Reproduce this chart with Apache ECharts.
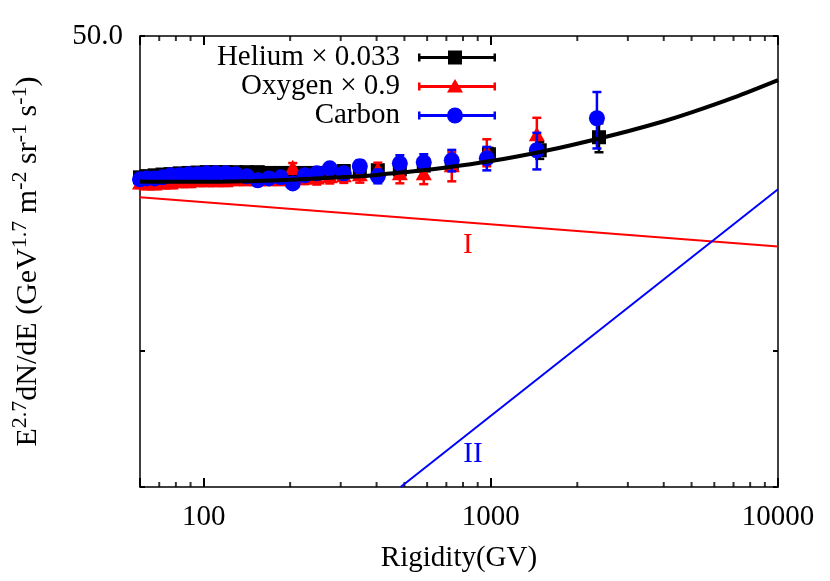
<!DOCTYPE html>
<html>
<head>
<meta charset="utf-8">
<script src="https://cdn.jsdelivr.net/npm/echarts@6/dist/echarts.min.js"></script>
<style>
html,body{margin:0;padding:0;background:#fff;}
#chart{width:830px;height:581px;}
</style>
</head>
<body>
<div id="chart"></div>
<script>
// ---- data ----
const rigidity = [60, 63.3, 67.5, 71.9, 76.7, 82.5, 88.7, 95.3, 102.4, 110.1, 119.3, 129.3, 141.2, 154.2, 168.5, 185.5, 204.2, 224.8, 247.6, 274.8, 307.5, 349.7, 404, 482, 584, 731, 968, 1446, 2341];
const heliumR = [60, 63.3, 67.5, 71.9, 76.7, 82.5, 88.7, 95.3, 102.4, 110.1, 119.3, 129.3, 141.2, 154.2, 168.5, 185.5, 204.2, 224.8, 247.6, 274.8, 307.5, 349.7, 404, 482, 584, 731, 985, 1480, 2380];
const heliumV = [24.3, 24.45, 24.55, 24.65, 24.7, 24.8, 24.85, 24.9, 24.95, 24.95, 24.95, 24.95, 24.95, 24.95, 24.85, 24.85, 24.85, 24.85, 24.85, 24.95, 25.1, 25.1, 25.2, 25.3, 25.8, 26.0, 27.34, 27.9, 29.82];
const heliumErr = [0.25, 0.25, 0.25, 0.25, 0.25, 0.25, 0.25, 0.25, 0.25, 0.25, 0.25, 0.25, 0.25, 0.25, 0.25, 0.25, 0.25, 0.25, 0.25, 0.25, 0.3, 0.35, 0.5, 0.5, 0.6, 0.7, 0.9, 1.2, 2.2];
const oxygenR = rigidity.slice(0, 28);
const oxygenV = [23.56, 23.44, 23.44, 23.56, 23.56, 23.69, 23.69, 23.81, 23.81, 23.81, 23.81, 23.93, 23.93, 23.93, 23.93, 23.93, 25.44, 24.17, 24.17, 24.30, 24.42, 24.55, 25.18, 24.67, 24.67, 25.71, 27.61, 30.13];
const oxygenErr = [0.55, 0.55, 0.55, 0.55, 0.55, 0.55, 0.55, 0.55, 0.55, 0.55, 0.55, 0.55, 0.55, 0.55, 0.55, 0.55, 0.7, 0.7, 0.75, 0.75, 0.8, 0.9, 1.0, 1.1, 1.2, 1.9, 1.9, 2.8];
const carbonR = rigidity;
const carbonV = [24.05, 24.17, 24.17, 24.30, 24.55, 24.55, 24.67, 24.67, 24.80, 24.80, 24.80, 24.67, 24.42, 23.93, 24.17, 24.30, 23.56, 24.55, 24.80, 25.44, 24.80, 25.71, 24.42, 26.10, 26.24, 26.50, 26.78, 27.90, 32.86];
const carbonErr = [0.35, 0.35, 0.35, 0.35, 0.35, 0.35, 0.35, 0.35, 0.35, 0.35, 0.37, 0.37, 0.4, 0.4, 0.42, 0.45, 0.5, 0.55, 0.6, 0.65, 0.7, 0.8, 0.85, 1.1, 1.1, 1.45, 1.6, 2.6, 4.7];

// total model curve (I + II)
const totalR = [60, 80, 100, 150, 200, 300, 400, 500, 700, 1000, 1500, 2000, 3000, 4000, 5000, 7000, 10000];
const totalV = [23.8, 23.75, 23.75, 23.85, 24.0, 24.3, 24.6, 24.95, 25.55, 26.4, 27.7, 28.85, 30.75, 32.35, 33.85, 36.5, 39.93];
// component I (red) and II (blue): straight lines in log-log
const compIR = [60, 10000];
const compIV = [21.94, 17.07];
const compIIR = [485, 10000];
const compIIV = [5.0, 22.86];
// annotation positions
const labelI = [832, 17.16];
const labelII = [866, 5.92];

const xTickLabels = [100, 1000, 10000];
const xMinorTicks = [70, 80, 90, 200, 300, 400, 500, 600, 700, 800, 900, 2000, 3000, 4000, 5000, 6000, 7000, 8000, 9000];
const yRange = [5, 50];
const yTopLabel = 50;

const names = ['Helium \u00d7 0.033', 'Oxygen \u00d7 0.9', 'Carbon'];

// ---- chart ----
const FONT = "'Liberation Serif', 'DejaVu Serif', 'Times New Roman', serif";
const FS = 29;
const BLACK = '#000000', RED = '#ff0000', BLUE = '#0000ff';

function zip3(a, b, c) { return a.map((v, i) => [v, b[i], c[i]]); }
function zip2(a, b) { return a.map((v, i) => [v, b[i]]); }

function errRender(shape, color) {
  return function (params, api) {
    const x = api.value(0), y = api.value(1), e = api.value(2);
    const p = api.coord([x, y]);
    const hi = api.coord([x, y + e]);
    const lo = api.coord([x, y - e]);
    const cap = 4.5, lw = 2.5;
    const st = { stroke: color, lineWidth: lw };
    const children = [
      { type: 'line', shape: { x1: p[0], y1: hi[1], x2: p[0], y2: lo[1] }, style: st },
      { type: 'line', shape: { x1: p[0] - cap, y1: hi[1], x2: p[0] + cap, y2: hi[1] }, style: st },
      { type: 'line', shape: { x1: p[0] - cap, y1: lo[1], x2: p[0] + cap, y2: lo[1] }, style: st }
    ];
    if (shape === 'square') {
      children.push({ type: 'rect', shape: { x: p[0] - 7, y: p[1] - 7, width: 14, height: 14 }, style: { fill: color } });
    } else if (shape === 'triangle') {
      children.push({ type: 'polygon', shape: { points: [[p[0], p[1] - 8.5], [p[0] + 8, p[1] + 6], [p[0] - 8, p[1] + 6]] }, style: { fill: color } });
    } else {
      children.push({ type: 'circle', shape: { cx: p[0], cy: p[1], r: 8 }, style: { fill: color } });
    }
    return { type: 'group', children: children };
  };
}

const base = 'M0 0 M78 16 M0 6.5L78 6.5L78 9.5L0 9.5Z M0 4L2.5 4L2.5 12L0 12Z M75.5 4L78 4L78 12L75.5 12Z ';
const iconSquare = 'path://' + base + 'M30 1L44 1L44 15L30 15Z';
const iconTri = 'path://' + base + 'M37 0.5L45 14L29 14Z';
const iconCircle = 'path://' + base + 'M29 8A8 8 0 1 1 45 8A8 8 0 1 1 29 8Z';

const axisLineStyle = { show: true, lineStyle: { color: BLACK, width: 1.5 } };
const majorTick = { show: true, inside: true, length: 9, lineStyle: { color: BLACK, width: 2 } };

// minor x ticks (bottom and mirrored top), drawn through the axes' own scale
const tickSeries = function (yv, dir) {
  return {
    name: 'minor' + yv, type: 'scatter', xAxisIndex: 0, yAxisIndex: 0, clip: false,
    symbol: 'rect', symbolSize: [2, 5], symbolOffset: [0, dir * 2.5],
    itemStyle: { color: BLACK },
    data: xMinorTicks.map(v => [v, yv])
  };
};

const chart = echarts.init(document.getElementById('chart'), null, { renderer: 'canvas' });
chart.setOption({
  animation: false,
  backgroundColor: '#ffffff',
  textStyle: { fontFamily: FONT },
  grid: { left: 140, right: 52, top: 36, bottom: 94 },
  legend: {
    orient: 'vertical', right: 334, top: 43, padding: 0, itemGap: 0,
    itemWidth: 78, itemHeight: 16, align: 'right', selectedMode: false,
    textStyle: { fontFamily: FONT, fontSize: FS, color: BLACK, lineHeight: 29, padding: [0, 13, 0, 0] },
    itemStyle: { borderWidth: 0 },
    data: [
      { name: names[0], icon: iconSquare },
      { name: names[1], icon: iconTri },
      { name: names[2], icon: iconCircle }
    ]
  },
  xAxis: [
    {
      type: 'log', min: 60, max: 10000, logBase: 10, position: 'bottom',
      name: 'Rigidity(GV)', nameLocation: 'middle', nameGap: 57,
      nameTextStyle: { fontFamily: FONT, fontSize: FS, color: BLACK },
      axisLine: axisLineStyle,
      axisTick: majorTick,
      axisLabel: {
        show: true, margin: 16, fontFamily: FONT, fontSize: FS, color: BLACK,
        formatter: function (v) {
          for (const t of xTickLabels) { if (Math.abs(v - t) / t < 1e-3) return String(t); }
          return '';
        }
      },
      splitLine: { show: false }
    },
    {
      type: 'log', min: 60, max: 10000, logBase: 10, position: 'top',
      axisLine: axisLineStyle,
      axisTick: majorTick,
      axisLabel: { show: false },
      splitLine: { show: false }
    }
  ],
  yAxis: [
    {
      type: 'log', min: yRange[0], max: yRange[1], logBase: 10, position: 'left',
      name: '{m|E}{s|2.7}{m|dN/dE (GeV}{s|1.7}{m| m}{s|-2}{m| sr}{s|-1}{m| s}{s|-1}{m|)}',
      nameLocation: 'middle', nameRotate: 90, nameGap: 92,
      nameTextStyle: {
        rich: {
          m: { fontFamily: FONT, fontSize: 30, color: BLACK },
          s: { fontFamily: FONT, fontSize: 22, color: BLACK, padding: [0, 0, 17, 0] }
        }
      },
      axisLine: axisLineStyle,
      axisTick: { show: true, inside: true, length: 5, lineStyle: { color: BLACK, width: 2 } },
      axisLabel: {
        show: true, margin: 17, fontFamily: FONT, fontSize: FS, color: BLACK,
        formatter: function (v) { return Math.abs(v - yTopLabel) < 0.01 ? yTopLabel.toFixed(1) : ''; }
      },
      splitLine: { show: false }
    },
    {
      type: 'log', min: yRange[0], max: yRange[1], logBase: 10, position: 'right',
      axisLine: axisLineStyle,
      axisTick: { show: true, inside: true, length: 5, lineStyle: { color: BLACK, width: 2 } },
      axisLabel: { show: false },
      splitLine: { show: false }
    }
  ],
  series: [
    tickSeries(yRange[0], -1),
    tickSeries(yRange[1], 1),
    {
      name: names[0], type: 'custom', xAxisIndex: 0, yAxisIndex: 0,
      itemStyle: { color: BLACK },
      data: zip3(heliumR, heliumV, heliumErr), encode: { x: 0, y: 1 },
      renderItem: errRender('square', BLACK)
    },
    {
      name: names[1], type: 'custom', xAxisIndex: 0, yAxisIndex: 0,
      itemStyle: { color: RED },
      data: zip3(oxygenR, oxygenV, oxygenErr), encode: { x: 0, y: 1 },
      renderItem: errRender('triangle', RED)
    },
    {
      name: names[2], type: 'custom', xAxisIndex: 0, yAxisIndex: 0,
      itemStyle: { color: BLUE },
      data: zip3(carbonR, carbonV, carbonErr), encode: { x: 0, y: 1 },
      renderItem: errRender('circle', BLUE)
    },
    {
      name: 'I', type: 'line', xAxisIndex: 0, yAxisIndex: 0, symbol: 'none',
      data: zip2(compIR, compIV), lineStyle: { color: RED, width: 2 }, itemStyle: { color: RED },
      markPoint: {
        silent: true, symbol: 'circle', symbolSize: 1, itemStyle: { color: 'rgba(0,0,0,0)' },
        label: { show: true, position: 'inside', formatter: 'I', color: RED, fontFamily: FONT, fontSize: FS },
        data: [{ coord: labelI }]
      }
    },
    {
      name: 'II', type: 'line', xAxisIndex: 0, yAxisIndex: 0, symbol: 'none',
      data: zip2(compIIR, compIIV), lineStyle: { color: BLUE, width: 2 }, itemStyle: { color: BLUE },
      markPoint: {
        silent: true, symbol: 'circle', symbolSize: 1, itemStyle: { color: 'rgba(0,0,0,0)' },
        label: { show: true, position: 'inside', formatter: 'II', color: BLUE, fontFamily: FONT, fontSize: FS },
        data: [{ coord: labelII }]
      }
    },
    {
      name: 'total', type: 'line', xAxisIndex: 0, yAxisIndex: 0, symbol: 'none', smooth: 0.3,
      data: zip2(totalR, totalV), lineStyle: { color: BLACK, width: 4 }, itemStyle: { color: BLACK }
    }
  ]
});
</script>
</body>
</html>
